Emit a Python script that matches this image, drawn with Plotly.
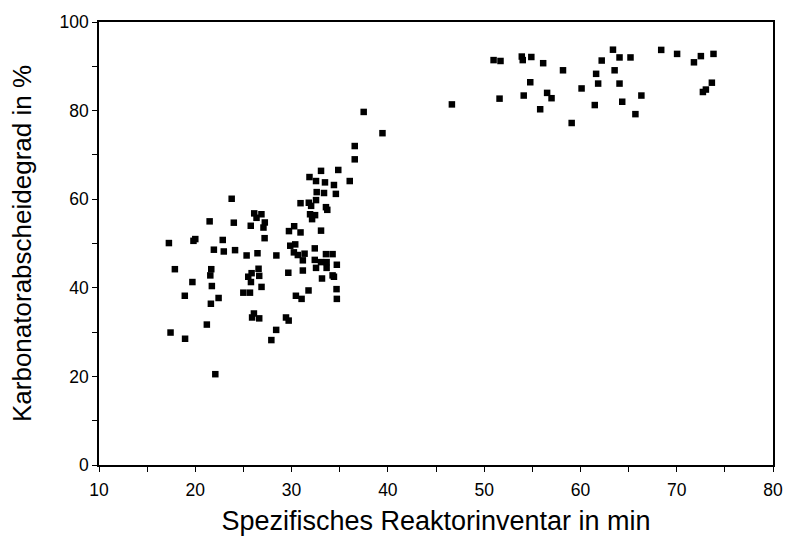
import plotly.graph_objects as go

inventar_min = [
    17.26, 19.81, 20.0, 17.88, 19.7, 18.91, 17.43, 18.94, 21.2, 21.49,
    21.66, 21.56, 21.72, 21.62, 21.93, 22.08, 22.42, 22.85, 22.96, 23.78,
    24.0, 24.13, 24.99, 25.68, 25.33, 25.5, 25.85, 25.78, 25.76, 26.12,
    26.09, 25.9, 26.64, 26.87, 26.36, 26.46, 26.57, 26.64, 26.88, 27.22,
    27.08, 27.2, 27.9, 28.4, 28.42, 29.42, 29.7, 29.73, 29.66, 29.86,
    30.38, 30.27, 30.24, 30.45, 30.65, 30.93, 30.93, 31.04, 31.17, 31.17,
    31.35, 31.76, 31.79, 31.86, 31.92, 32.03, 32.13, 32.44, 32.54, 32.54,
    32.61, 32.41, 32.41, 32.54, 33.06, 33.06, 33.06, 33.16, 33.37, 33.47,
    33.57, 33.71, 33.57, 33.64, 33.64, 34.26, 34.26, 34.4, 34.4, 34.6,
    34.7, 34.67, 34.7, 34.85, 36.04, 36.56, 36.56, 37.49, 39.44, 46.65,
    50.98, 51.70, 53.91, 54.01, 54.90, 56.13, 58.19, 54.79, 51.60, 54.11,
    56.54, 57.0, 55.82, 59.09, 60.12, 62.21, 63.38, 64.06, 61.63, 63.55,
    61.84, 64.06, 61.49, 64.34, 65.2, 68.39, 70.04, 71.79, 72.51, 73.82,
    66.33, 65.71, 73.65, 73.03, 72.72,
]
abscheidegrad_pct = [
    50.1, 50.6, 51.0, 44.2, 41.3, 38.2, 29.9, 28.5, 31.7, 55.0,
    44.2, 42.8, 40.4, 36.4, 48.6, 20.5, 37.7, 50.8, 48.2, 60.1,
    54.7, 48.5, 38.9, 38.9, 47.3, 42.5, 43.3, 41.3, 54.0, 56.8,
    34.2, 33.3, 33.1, 56.6, 55.8, 47.8, 44.3, 42.7, 40.2, 54.75,
    53.6, 51.2, 28.2, 30.5, 47.3, 33.3, 32.6, 52.8, 43.4, 49.5,
    49.8, 53.9, 48.0, 38.2, 47.4, 59.1, 52.5, 37.5, 46.2, 43.9,
    47.7, 39.4, 59.2, 65.0, 56.6, 58.5, 55.5, 56.4, 59.8, 64.1,
    61.6, 48.9, 46.3, 44.5, 66.4, 52.9, 45.8, 42.1, 61.4, 63.8,
    58.2, 57.6, 47.6, 45.8, 44.5, 47.6, 42.8, 63.2, 42.5, 61.2,
    45.2, 39.7, 37.5, 66.6, 64.1, 69.0, 72.0, 79.7, 74.9, 81.4,
    91.4, 91.2, 92.2, 91.4, 92.1, 90.7, 89.1, 86.4, 82.7, 83.4,
    84.0, 82.8, 80.3, 77.2, 85.0, 91.3, 93.75, 92.0, 88.3, 89.1,
    86.1, 86.1, 81.25, 82.0, 92.0, 93.7, 92.8, 90.9, 92.3, 92.8,
    83.4, 79.2, 86.3, 84.75, 84.2,
]

x_title = "Spezifisches Reaktorinventar in min"
y_title = "Karbonatorabscheidegrad in %"

font_family = "Liberation Sans, Arial, sans-serif"

fig = go.Figure()
fig.add_trace(go.Scatter(
    x=inventar_min, y=abscheidegrad_pct, mode="markers",
    marker=dict(symbol="square", size=6.5, color="black", line=dict(width=0)),
    showlegend=False,
))

axis_common = dict(
    showgrid=False, zeroline=False, showline=True, linecolor="black", linewidth=1.5,
    mirror=True, ticks="outside", tickcolor="black", tickwidth=1.2, ticklen=5,
    tickfont=dict(family=font_family, size=17.5, color="black"),
)

fig.update_layout(
    width=795, height=550,
    margin=dict(l=99, r=16, t=17, b=85),
    paper_bgcolor="white", plot_bgcolor="white",
    font=dict(family=font_family, color="black"),
    xaxis=dict(
        range=[10, 80], tickvals=[10, 20, 30, 40, 50, 60, 70, 80],
        minor=dict(tickvals=[15, 25, 35, 45, 55, 65, 75], ticks="outside",
                   ticklen=5, tickcolor="black", tickwidth=1.2),
        ticklabelstandoff=3,
        title=dict(text=x_title, font=dict(family=font_family, size=27, color="black"), standoff=12),
        **axis_common,
    ),
    yaxis=dict(
        range=[0, 100], tickvals=[0, 20, 40, 60, 80, 100],
        minor=dict(tickvals=[10, 30, 50, 70, 90], ticks="outside",
                   ticklen=5, tickcolor="black", tickwidth=1.2),
        title=dict(text=y_title, font=dict(family=font_family, size=26, color="black"), standoff=20),
        **axis_common,
    ),
)

fig.write_html("out.html")
